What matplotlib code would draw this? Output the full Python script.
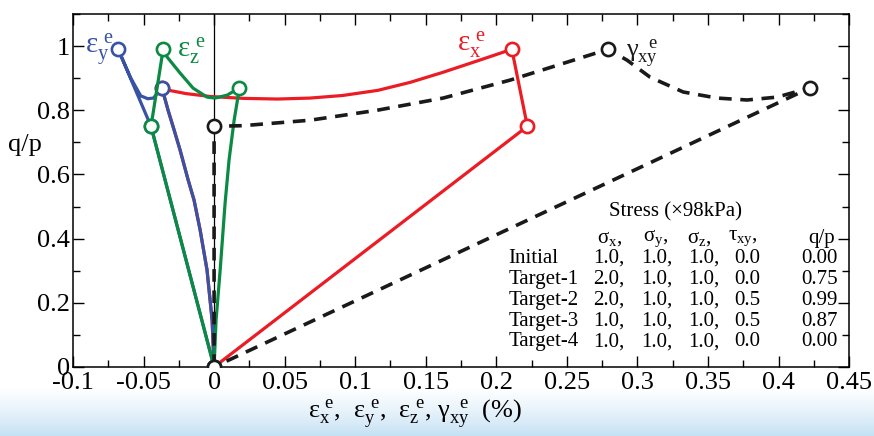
import numpy as np
import matplotlib.pyplot as plt
from matplotlib.colors import LinearSegmentedColormap
from matplotlib.ticker import MultipleLocator, FuncFormatter

plt.rcParams['font.family'] = ['Liberation Serif', 'DejaVu Serif']
plt.rcParams['mathtext.fontset'] = 'custom'
plt.rcParams['mathtext.rm'] = 'Liberation Serif'
plt.rcParams['mathtext.it'] = 'Liberation Serif'
plt.rcParams['mathtext.bf'] = 'Liberation Serif:bold'
plt.rcParams['axes.unicode_minus'] = False

# elastic strain paths (%) against stress ratio q/p
ex_path = [0, 0.222, 0.211, 0.186, 0.162, 0.139, 0.116, 0.091, 0.068, 0.045, 0.021, -0.003,
           -0.020, -0.033, -0.037, -0.0326, -0.0283, -0.0241, -0.0184, -0.0142, -0.0099,
           -0.0050, -0.0014, 0]
ex_qp = [0, 0.75, 0.99, 0.953, 0.918, 0.887, 0.862, 0.846, 0.838, 0.835, 0.837, 0.843,
         0.852, 0.863, 0.87, 0.80, 0.738, 0.676, 0.583, 0.520, 0.427, 0.302, 0.146, 0]

ey_path = [0, -0.0447, -0.068, -0.059, -0.052, -0.047, -0.043, -0.037,
           -0.0326, -0.0283, -0.0241, -0.0184, -0.0142, -0.0099, -0.0050, -0.0014, 0]
ey_qp = [0, 0.75, 0.99, 0.90, 0.845, 0.836, 0.838, 0.87,
         0.80, 0.738, 0.676, 0.583, 0.520, 0.427, 0.302, 0.146, 0]

ez_path = [0, -0.0447, -0.0361, -0.0333, -0.0241, -0.0149, -0.005, 0.0007, 0.0092, 0.018,
           0.0142, 0.0106, 0.0078, 0.0043, 0.0014, 0]
ez_qp = [0, 0.75, 0.99, 0.966, 0.916, 0.869, 0.841, 0.838, 0.847, 0.87,
         0.769, 0.645, 0.511, 0.302, 0.146, 0]

gxy_path = [0, 0, 0.0206, 0.068, 0.1155, 0.1623, 0.2098, 0.2792, 0.2927, 0.309, 0.3324,
            0.3565, 0.3777, 0.399, 0.4224, 0]
gxy_qp = [0, 0.75, 0.752, 0.769, 0.80, 0.838, 0.894, 0.99, 0.956, 0.903, 0.857,
          0.838, 0.832, 0.841, 0.87, 0]

# strain at the stress targets (Initial, Target-1, Target-2, Target-3)
target_qp = [0, 0.75, 0.99, 0.87]
ex_target = [0, 0.222, 0.211, -0.037]
ey_target = [0, -0.0447, -0.068, -0.037]
ez_target = [0, -0.0447, -0.0361, 0.018]
gxy_target = [0, 0, 0.2792, 0.4224]

# stress table
stages = ['Initial', 'Target-1', 'Target-2', 'Target-3', 'Target-4']
sig_x = ['1.0,', '2.0,', '2.0,', '1.0,', '1.0,']
sig_y = ['1.0,', '1.0,', '1.0,', '1.0,', '1.0,']
sig_z = ['1.0,', '1.0,', '1.0,', '1.0,', '1.0,']
tau_xy = ['0.0', '0.0', '0.5', '0.5', '0.0']
qp_vals = ['0.00', '0.75', '0.99', '0.87', '0.00']

red = '#ec1c24'
blue = '#3953a4'
green = '#0a8a43'
black = '#1a1a1a'

fig = plt.figure(figsize=(8.74, 4.36), dpi=100)

# pale blue band along the bottom
bg = fig.add_axes([0, 0, 1, 0.11], zorder=-5)
grad = np.linspace(0, 1, 100)[:, None] ** 0.8
bg_cmap = LinearSegmentedColormap.from_list('band', ['#c3e0f4', '#ffffff'])
bg.imshow(grad, aspect='auto', cmap=bg_cmap, extent=[0, 1, 0, 1], origin='lower')
bg.axis('off')

ax = fig.add_axes([0.0835, 0.1583, 0.888, 0.8096])
ax.axvline(0, color='black', lw=0.9, zorder=1)

mk = dict(marker='o', ms=9.5, mfc='white', mew=1.9, ls='none')
ax.plot(ex_path, ex_qp, color=red, lw=2.3, zorder=2)
ax.plot(ex_target, target_qp, mec=red, zorder=2.1, **mk)
ax.plot(ey_path, ey_qp, color=blue, lw=2.3, zorder=3)
ax.plot(ey_target, target_qp, mec=blue, zorder=3.1, **mk)
ax.plot(ez_path, ez_qp, color=green, lw=2.3, zorder=4)
ax.plot(ez_target, target_qp, mec=green, zorder=4.1, **mk)
ax.plot(gxy_path, gxy_qp, color=black, lw=2.6, ls=(0, (3.5, 2.4)), zorder=5)
ax.plot(gxy_target, target_qp, mec=black, zorder=5.1, **mk)

ax.text(-0.071, 0.99, r'$\varepsilon_{\mathrm{y}}^{\ \mathrm{e}}$', color=blue, fontsize=21,
        ha='right', va='center')
ax.text(-0.026, 0.985, r'$\varepsilon_{\mathrm{z}}^{\ \mathrm{e}}$', color=green, fontsize=21,
        ha='left', va='center')
ax.text(0.172, 1.005, r'$\varepsilon_{\mathrm{x}}^{\ \mathrm{e}}$', color=red, fontsize=21,
        ha='left', va='center')
ax.text(0.292, 0.975, r'$\gamma_{\mathrm{xy}}^{\ \ \mathrm{e}}$', color=black, fontsize=19,
        ha='left', va='center')

# stress table
tfs = 15
ax.text(0.280, 0.483, 'Stress (×98kPa)', fontsize=tfs, ha='left', va='center')
hdr_y = 0.40
ax.text(0.2715, hdr_y, r'$\sigma_{\mathrm{x}}$,', fontsize=tfs, ha='left', va='center')
ax.text(0.304, hdr_y, r'$\sigma_{\mathrm{y}}$,', fontsize=tfs, ha='left', va='center')
ax.text(0.335, hdr_y, r'$\sigma_{\mathrm{z}}$,', fontsize=tfs, ha='left', va='center')
ax.text(0.364, hdr_y, r'$\tau_{\mathrm{xy}}$,', fontsize=tfs, ha='left', va='center')
ax.text(0.440, hdr_y, 'q/p', fontsize=tfs, ha='right', va='center')
row_y = [0.338, 0.273, 0.208, 0.143, 0.078]
for i in range(len(stages)):
    y = row_y[i]
    ax.text(0.2084, y, stages[i], fontsize=tfs, ha='left', va='center')
    ax.text(0.2686, y, sig_x[i], fontsize=tfs, ha='left', va='center')
    ax.text(0.3026, y, sig_y[i], fontsize=tfs, ha='left', va='center')
    ax.text(0.336, y, sig_z[i], fontsize=tfs, ha='left', va='center')
    ax.text(0.3685, y, tau_xy[i], fontsize=tfs, ha='left', va='center')
    ax.text(0.4422, y, qp_vals[i], fontsize=tfs, ha='right', va='center')

ax.set_xlim(-0.1, 0.45)
ax.set_ylim(0, 1.1)
ax.xaxis.set_major_locator(MultipleLocator(0.05))
ax.xaxis.set_minor_locator(MultipleLocator(0.025))
ax.yaxis.set_major_locator(MultipleLocator(0.2))
ax.yaxis.set_minor_locator(MultipleLocator(0.1))
fmt = FuncFormatter(lambda v, p: '%g' % round(v, 3))
ax.xaxis.set_major_formatter(fmt)
ax.yaxis.set_major_formatter(fmt)
ax.tick_params(which='both', direction='in', top=True, right=True, width=1.0, labelsize=19, pad=2)
ax.tick_params(axis='x', which='major', pad=3.5)
ax.tick_params(which='major', length=8)
ax.tick_params(which='minor', length=5)
for s in ax.spines.values():
    s.set_linewidth(1.1)

fig.text(0.028, 0.667, 'q/p', fontsize=19, ha='center', va='center')
fig.text(0.475, 0.052,
         r'$\varepsilon_{\mathrm{x}}^{\ \mathrm{e}}$,  $\varepsilon_{\mathrm{y}}^{\ \mathrm{e}}$,  '
         r'$\varepsilon_{\mathrm{z}}^{\ \mathrm{e}}$, $\gamma_{\mathrm{xy}}^{\ \ \mathrm{e}}$  (%)',
         fontsize=19, ha='center', va='center')

fig.savefig('out.png', dpi=100)
